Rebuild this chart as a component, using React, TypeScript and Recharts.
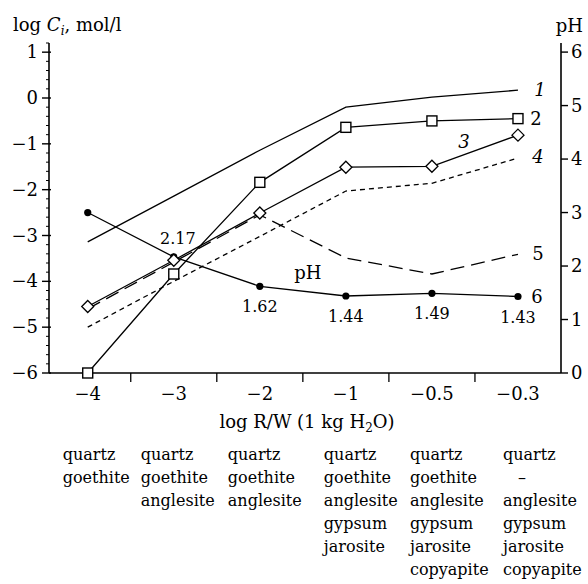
import React from 'react';
import { LineChart, Line, XAxis, YAxis, LabelList } from 'recharts';

const FONT = '"DejaVu Serif", serif';

const steps = ['−4', '−3', '−2', '−1', '−0.5', '−0.3'];
const line1 = [-3.14, -2.14, -1.14, -0.2, 0.02, 0.17];
const line2 = [-6.0, -3.84, -1.84, -0.64, -0.5, -0.45];
const line3 = [-4.55, -3.54, -2.51, -1.51, -1.49, -0.81];
const line4 = [-5.0, -4.0, -3.02, -2.03, -1.86, -1.31];
const line5 = [-4.6, -3.58, -2.55, -3.49, -3.84, -3.41];
const ph = [3.0, 2.17, 1.62, 1.44, 1.49, 1.43];
const phLabels = ['', '2.17', '1.62', '1.44', '1.49', '1.43'];

const minerals = [
  ['quartz', 'goethite', '', '', '', ''],
  ['quartz', 'goethite', 'anglesite', '', '', ''],
  ['quartz', 'goethite', 'anglesite', '', '', ''],
  ['quartz', 'goethite', 'anglesite', 'gypsum', 'jarosite', ''],
  ['quartz', 'goethite', 'anglesite', 'gypsum', 'jarosite', 'copyapite'],
  ['quartz', '–', 'anglesite', 'gypsum', 'jarosite', 'copyapite'],
];

const leftMajor = [-6, -5, -4, -3, -2, -1, 0, 1];
const phTicks = [0, 1, 2, 3, 4, 5, 6];

// layout: left edge of each mineral column relative to its tick
const COL_DX = [-25, -33, -32, -22, -22, -15];

const data = steps.map((s, i) => ({
  i,
  s,
  l1: line1[i],
  l2: line2[i],
  l3: line3[i],
  l4: line4[i],
  l5: line5[i],
  ph: ph[i],
  phLabel: phLabels[i],
}));

// major ticks plus minor ticks every 0.2
const leftTicks: number[] = [];
for (let k = 0; k <= 36; k++) leftTicks.push(Math.round((leftMajor[0] + k * 0.2) * 10) / 10);

const xTicks: number[] = [];
for (let k = 0; k <= 10; k++) xTicks.push(k / 2);

const isInt = (v: number) => Math.abs(v - Math.round(v)) < 1e-6;
const fmt = (v: number) => (v < 0 ? '−' + Math.abs(v) : String(v));

function XTick(props: any) {
  const { x, y, payload } = props;
  const v = payload.value;
  if (!isInt(v)) {
    return <line x1={x} x2={x} y1={y} y2={y + 9} stroke="#000" strokeWidth={1.3} />;
  }
  const left = x + COL_DX[v];
  return (
    <g fontFamily={FONT}>
      <text x={x} y={y + 27} textAnchor="middle" fontSize={18} fill="#000">
        {steps[v]}
      </text>
      {minerals[v].map((m, r) =>
        m ? (
          <text
            key={r}
            x={m === '–' ? left + 19 : left}
            y={y + 87 + r * 23}
            textAnchor={m === '–' ? 'middle' : 'start'}
            fontSize={16}
            fill="#000"
          >
            {m}
          </text>
        ) : null
      )}
    </g>
  );
}

function LeftTick(props: any) {
  const { x, y, payload } = props;
  const v = payload.value;
  if (!isInt(v)) {
    return <line x1={x - 3} x2={x} y1={y} y2={y} stroke="#000" strokeWidth={1} />;
  }
  return (
    <g>
      <line x1={x - 7} x2={x + 2} y1={y} y2={y} stroke="#000" strokeWidth={1.4} />
      <text x={x - 11} y={y} dy={6} textAnchor="end" fontSize={18} fontFamily={FONT} fill="#000">
        {fmt(v)}
      </text>
    </g>
  );
}

function RightTick(props: any) {
  const { x, y, payload } = props;
  return (
    <g>
      <line x1={x} x2={x + 7} y1={y} y2={y} stroke="#000" strokeWidth={1.4} />
      <text x={x + 10} y={y} dy={6} textAnchor="start" fontSize={18} fontFamily={FONT} fill="#000">
        {payload.value}
      </text>
    </g>
  );
}

function seriesLabel(text: string, at: number, dx: number, dy: number, italic: boolean) {
  return (p: any) =>
    p.index === at ? (
      <text
        key={'s' + text}
        x={p.x + dx}
        y={p.y + dy}
        dy={6}
        textAnchor="middle"
        fontSize={18}
        fontStyle={italic ? 'italic' : 'normal'}
        fontFamily={FONT}
        fill="#000"
      >
        {text}
      </text>
    ) : null;
}

function phValueLabel(p: any) {
  if (!p.value) return null;
  const dy = p.index === 1 ? -19 : 20;
  return (
    <text
      key={'v' + p.index}
      x={p.x + (p.index === 1 ? 4 : 0)}
      y={p.y + dy}
      dy={6}
      textAnchor="middle"
      fontSize={16}
      fontFamily={FONT}
      fill="#000"
    >
      {p.value}
    </text>
  );
}

const squareDot = (p: any) => (
  <rect key={'q' + p.index} x={p.cx - 5} y={p.cy - 5} width={10} height={10} fill="#fff" stroke="#000" strokeWidth={1.4} />
);

const diamondDot = (p: any) => (
  <polygon
    key={'d' + p.index}
    points={`${p.cx},${p.cy - 6} ${p.cx + 6},${p.cy} ${p.cx},${p.cy + 6} ${p.cx - 6},${p.cy}`}
    fill="#fff"
    stroke="#000"
    strokeWidth={1.3}
  />
);

const circleDot = (p: any) => <circle key={'c' + p.index} cx={p.cx} cy={p.cy} r={3.6} fill="#000" />;

export default function App() {
  return (
    <div style={{ position: 'absolute', left: 0, top: 0, width: 588, height: 584, background: '#fff', fontFamily: FONT }}>
      <LineChart width={588} height={584} data={data} margin={{ top: 43, right: 0, bottom: 181, left: 0 }}>
        <XAxis
          dataKey="i"
          type="number"
          domain={[-0.45, 5.5]}
          ticks={xTicks}
          interval={0}
          tick={<XTick />}
          tickLine={false}
          tickSize={0}
          tickMargin={0}
          height={30}
          axisLine={{ stroke: '#000', strokeWidth: 1.6 }}
        />
        <YAxis
          yAxisId="c"
          type="number"
          domain={[-6, 1.2]}
          ticks={leftTicks}
          interval={0}
          tick={<LeftTick />}
          tickLine={false}
          tickSize={0}
          tickMargin={0}
          width={49}
          axisLine={{ stroke: '#000', strokeWidth: 1.6 }}
        />
        <YAxis
          yAxisId="ph"
          orientation="right"
          type="number"
          domain={[0, 6.17]}
          ticks={phTicks}
          interval={0}
          tick={<RightTick />}
          tickLine={false}
          tickSize={0}
          tickMargin={0}
          width={27}
          axisLine={{ stroke: '#000', strokeWidth: 1.6 }}
        />
        <Line yAxisId="c" dataKey="l1" stroke="#000" strokeWidth={1.3} dot={false} isAnimationActive={false}>
          <LabelList dataKey="l1" content={seriesLabel('1', 5, 22, 0, true)} />
        </Line>
        <Line yAxisId="c" dataKey="l4" stroke="#000" strokeWidth={1.3} strokeDasharray="5 4" dot={false} isAnimationActive={false}>
          <LabelList dataKey="l4" content={seriesLabel('4', 5, 20, -1, true)} />
        </Line>
        <Line yAxisId="c" dataKey="l5" stroke="#000" strokeWidth={1.3} strokeDasharray="14 7" dot={false} isAnimationActive={false}>
          <LabelList dataKey="l5" content={seriesLabel('5', 5, 20, 0, false)} />
        </Line>
        <Line yAxisId="ph" dataKey="ph" stroke="#000" strokeWidth={1.3} dot={circleDot} isAnimationActive={false}>
          <LabelList dataKey="phLabel" content={phValueLabel} />
          <LabelList dataKey="ph" content={seriesLabel('pH', 2, 48, -13, false)} />
          <LabelList dataKey="ph" content={seriesLabel('6', 5, 19, 0, false)} />
        </Line>
        <Line yAxisId="c" dataKey="l3" stroke="#000" strokeWidth={1.3} dot={diamondDot} isAnimationActive={false}>
          <LabelList dataKey="l3" content={seriesLabel('3', 4, 32, -24, true)} />
        </Line>
        <Line yAxisId="c" dataKey="l2" stroke="#000" strokeWidth={1.3} dot={squareDot} isAnimationActive={false}>
          <LabelList dataKey="l2" content={seriesLabel('2', 5, 18, 0, false)} />
        </Line>
      </LineChart>
      <svg width={588} height={584} style={{ position: 'absolute', left: 0, top: 0, pointerEvents: 'none' }}>
        <text x={13} y={31} fontSize={18} fontFamily={FONT} fill="#000">
          log <tspan fontStyle="italic">C</tspan>
          <tspan fontSize={12} fontStyle="italic" dy={4}>i</tspan>
          <tspan dy={-4}>, mol/l</tspan>
        </text>
        <text x={583} y={32} fontSize={18} fontFamily={FONT} textAnchor="end" fill="#000">
          pH
        </text>
        <text x={307} y={428} fontSize={18} fontFamily={FONT} textAnchor="middle" fill="#000">
          log R/W (1 kg H<tspan fontSize={12} dy={4}>2</tspan>
          <tspan dy={-4}>O)</tspan>
        </text>
      </svg>
    </div>
  );
}
